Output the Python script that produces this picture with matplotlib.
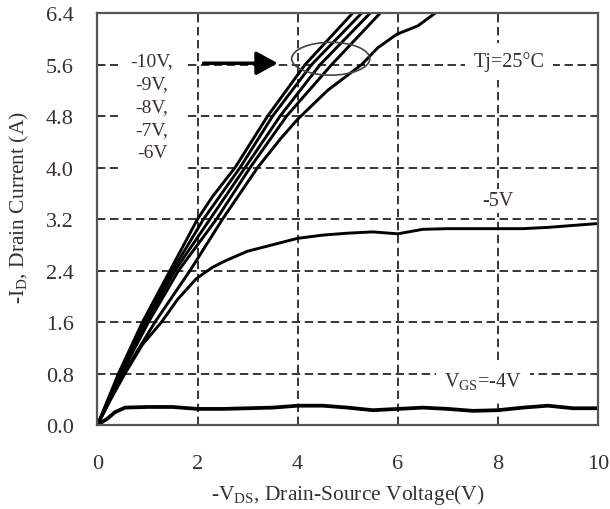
import matplotlib
matplotlib.use("Agg")
import matplotlib.pyplot as plt
from matplotlib.patches import Ellipse

plt.rcParams['font.family'] = ['Liberation Serif', 'DejaVu Serif']
plt.rcParams['mathtext.fontset'] = 'custom'
plt.rcParams['mathtext.rm'] = 'Liberation Serif'
plt.rcParams['mathtext.it'] = 'Liberation Serif:italic'

TXT = '#3b3029'

# output characteristics, -ID vs -VDS for each gate voltage
vds_10 = [0, 0.42, 0.9, 1.45, 2.0, 2.3, 2.75, 3.4, 4.15, 5.1]
id_10 = [0, 0.8, 1.6, 2.4, 3.2, 3.55, 4.0, 4.8, 5.6, 6.4]
vds_9 = [0, 0.44, 0.93, 1.5, 2.12, 2.85, 3.5, 4.28, 5.28]
id_9 = [0, 0.8, 1.6, 2.4, 3.2, 4.0, 4.8, 5.6, 6.4]
vds_8 = [0, 0.46, 0.97, 1.55, 2.25, 2.95, 3.65, 4.45, 5.45]
id_8 = [0, 0.8, 1.6, 2.4, 3.2, 4.0, 4.8, 5.6, 6.4]
vds_7 = [0, 0.48, 1.02, 1.62, 2.38, 3.05, 3.78, 4.68, 5.65]
id_7 = [0, 0.8, 1.6, 2.4, 3.2, 4.0, 4.8, 5.6, 6.4]
vds_6 = [0, 0.52, 1.15, 1.85, 2.5, 3.2, 3.65, 4.0, 4.6, 5.28, 5.6, 5.98, 6.4, 6.75]
id_6 = [0, 0.8, 1.6, 2.4, 3.2, 4.0, 4.44, 4.75, 5.2, 5.6, 5.86, 6.07, 6.2, 6.4]
vds_5 = [0, 0.25, 0.55, 0.9, 1.28, 1.6, 1.97, 2.15, 2.3, 2.5, 2.7, 3.0, 3.4, 4.0,
         4.5, 5.0, 5.5, 6.0, 6.5, 7.0, 8.0, 8.5, 9.0, 9.5, 10.0]
id_5 = [0, 0.38, 0.8, 1.25, 1.6, 1.95, 2.27, 2.37, 2.45, 2.53, 2.6, 2.7, 2.78, 2.9,
        2.95, 2.98, 3.0, 2.97, 3.04, 3.05, 3.05, 3.05, 3.07, 3.1, 3.13]
vds_4 = [0, 0.2, 0.35, 0.55, 1.0, 1.5, 2.0, 2.5, 3.0, 3.5, 4.0, 4.5, 5.0, 5.5,
         6.0, 6.5, 7.0, 7.5, 8.0, 8.5, 9.0, 9.5, 10.0]
id_4 = [0, 0.1, 0.2, 0.27, 0.28, 0.28, 0.25, 0.25, 0.26, 0.27, 0.3, 0.3, 0.27, 0.23,
        0.25, 0.27, 0.25, 0.22, 0.23, 0.27, 0.3, 0.26, 0.26]

xticks = [0, 2, 4, 6, 8, 10]
yticks = [0.0, 0.8, 1.6, 2.4, 3.2, 4.0, 4.8, 5.6, 6.4]

fig = plt.figure(figsize=(6.1, 5.1), dpi=100)
ax = fig.add_axes([0.1598, 0.1647, 0.8205, 0.8078])

for x, y in [(vds_10, id_10), (vds_9, id_9), (vds_8, id_8), (vds_7, id_7),
             (vds_6, id_6), (vds_5, id_5)]:
    ax.plot(x, y, color='black', lw=2.1, solid_joinstyle='round')
ax.plot(vds_4, id_4, color='black', lw=2.7)

ax.set_xlim(0, 10)
ax.set_ylim(0, 6.4)
ax.set_xticks(xticks)
ax.set_yticks(yticks)
ax.set_xticklabels([str(v) for v in xticks])
ax.set_yticklabels(['%.1f' % v for v in yticks])
ax.tick_params(length=0, labelsize=16, labelcolor=TXT)
ax.tick_params(axis='x', pad=21)
ax.tick_params(axis='y', pad=17)
ax.set_axisbelow(True)
ax.grid(True, color='black', lw=1.1, linestyle=(0, (5.5, 3)))
for s in ax.spines.values():
    s.set_color('#555555')
    s.set_linewidth(1.6)

ax.set_xlabel(r'-V$_{\mathrm{DS}}$, Drain-Source Voltage(V)', fontsize=15.5, color=TXT)
ax.set_ylabel(r'-I$_{\mathrm{D}}$, Drain Current (A)', fontsize=15.5, color=TXT)
ax.xaxis.label.set_verticalalignment('center')
ax.yaxis.label.set_verticalalignment('center')
ax.xaxis.set_label_coords(0.5, -0.167)
ax.yaxis.set_label_coords(-0.155, 0.53)

ax.text(1.09, 4.95, '-10V,\n-9V,\n-8V,\n-7V,\n-6V', ha='center', va='center',
        multialignment='center', fontsize=14, color=TXT, linespacing=1.45,
        bbox=dict(facecolor='white', edgecolor='none', pad=9))
ax.annotate('', xy=(3.6, 5.62), xytext=(2.12, 5.62),
            arrowprops=dict(arrowstyle='-|>,head_length=0.65,head_width=0.36',
                            lw=2.5, color='black', mutation_scale=20,
                            shrinkA=0, shrinkB=0))
ax.add_patch(Ellipse((4.66, 5.69), 1.56, 0.51, fill=False, edgecolor='#444444',
                     lw=1.2, zorder=3))
ax.text(8.22, 5.65, 'Tj=25°C', ha='center', va='center', fontsize=14.5, color=TXT,
        bbox=dict(facecolor='white', edgecolor='none', pad=6))
ax.text(8.0, 3.48, '-5V', ha='center', va='center', fontsize=14.5, color=TXT,
        bbox=dict(facecolor='white', edgecolor='none', pad=2))
ax.text(7.7, 0.69, r'V$_{\mathrm{GS}}$=-4V', ha='center', va='center', fontsize=14.5,
        color=TXT, bbox=dict(facecolor='white', edgecolor='none', pad=6))

fig.savefig('out.png', dpi=100)
